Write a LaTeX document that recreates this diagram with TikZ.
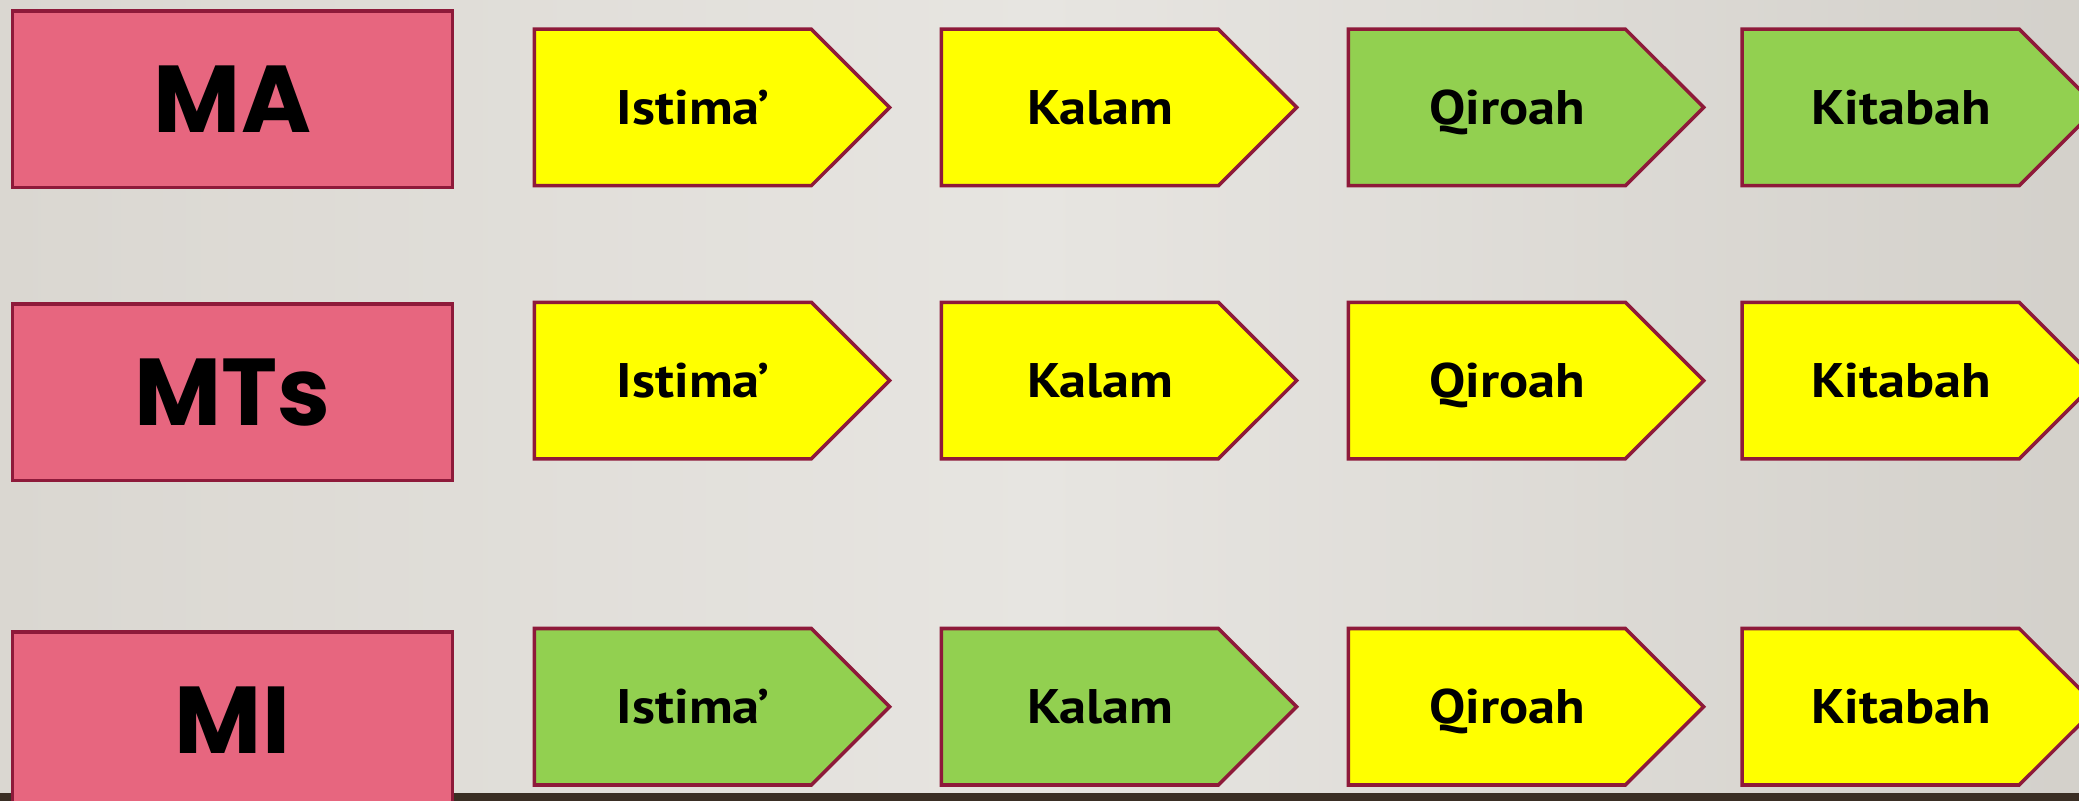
\documentclass[tikz,border=0pt]{standalone}
\usepackage{fontspec}
\setmainfont{PT Sans}[FakeStretch=1.12]
\newfontfamily\levelfont{Poppins}

\definecolor{edgered}{HTML}{8E1A3A}
\definecolor{levelpink}{HTML}{E7667F}
\definecolor{skillyellow}{HTML}{FFFF00}
\definecolor{skillgreen}{HTML}{92D050}
\definecolor{wallgrey}{HTML}{E7E5E1}
\definecolor{wallside}{HTML}{DAD7D1}
\definecolor{floorbrown}{HTML}{3A2E24}

\tikzset{
  level/.style={draw=edgered, fill=levelpink, line width=1pt, inner sep=0pt,
    minimum width=4.40cm, minimum height=1.763cm, anchor=north west,
    font=\levelfont\bfseries\fontsize{27}{30}\selectfont},
  skill/.style={draw=edgered, line width=1pt, line join=miter},
  skilltext/.style={inner sep=0pt, anchor=base,
    font=\bfseries\fontsize{13.8}{16}\selectfont},
}

% one arrow box: name, left x, top y, fill, label
\newcommand{\skillarrow}[5]{%
  \draw[skill, fill=#4] (#2,#3) -- ++(277,0) -- ++(78.3,78.25)
    -- ++(-78.3,78.25) -- ++(-277,0) -- cycle;
  \node[skilltext] (#1) at (#2+159,#3+95) {#5};
}

\begin{document}
\begin{tikzpicture}[x=0.01cm, y=-0.01cm]

\useasboundingbox (0,0) rectangle (2079,801);
\clip (0,0) rectangle (2079,801);

% background wall and floor strip
\shade[left color=wallside, right color=wallside!97!black, middle color=wallgrey]
  (0,0) rectangle (2079,801);
\fill[floorbrown] (0,793) rectangle (2079,801);

% school levels
\node[level] (ma)  at (10.6,9.3)   {MA};
\node[level] (mts) at (10.6,302.3) {MTs};
\node[level] (mi)  at (10.6,630)   {MI};

% row MA
\skillarrow{maist}{534.3}{29.2}{skillyellow}{Istima’}
\skillarrow{makal}{941.4}{29.2}{skillyellow}{Kalam}
\skillarrow{maqir}{1348.4}{29.2}{skillgreen}{Qiroah}
\skillarrow{makit}{1742.2}{29.2}{skillgreen}{Kitabah}

% row MTs
\skillarrow{mtsist}{534.3}{302.3}{skillyellow}{Istima’}
\skillarrow{mtskal}{941.4}{302.3}{skillyellow}{Kalam}
\skillarrow{mtsqir}{1348.4}{302.3}{skillyellow}{Qiroah}
\skillarrow{mtskit}{1742.2}{302.3}{skillyellow}{Kitabah}

% row MI
\skillarrow{miist}{534.3}{628.5}{skillgreen}{Istima’}
\skillarrow{mikal}{941.4}{628.5}{skillgreen}{Kalam}
\skillarrow{miqir}{1348.4}{628.5}{skillyellow}{Qiroah}
\skillarrow{mikit}{1742.2}{628.5}{skillyellow}{Kitabah}

\end{tikzpicture}
\end{document}
